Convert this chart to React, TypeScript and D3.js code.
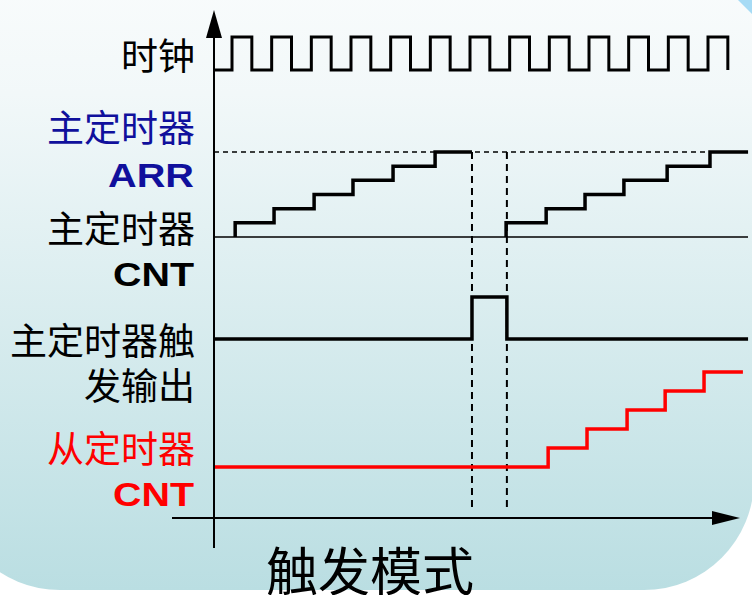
import React from "react";
import * as d3 from "d3";

// ---- data (time in clock periods, levels in counter units) ----
const clockRises = [0, 1, 2, 3, 4, 5, 6, 7, 8, 9, 10, 11, 12];
const clockHigh = 0.5;
const timeStart = -0.45;

const masterRun1T = [0.08, 1.06, 2.07, 3.05, 4.06, 5.12, 6.05];
const masterRun1V = [1, 2, 3, 4, 5, 6, 6];
const masterRun2T = [6.91, 7.92, 8.9, 9.88, 10.97, 12.05, 13.01];
const masterRun2V = [1, 2, 3, 4, 5, 6, 6];
const arrValue = 6;

const triggerT = [-0.45, 6.05, 6.93, 13.01];
const triggerV = [0, 1, 0, 0];

const slaveT = [-0.45, 7.97, 8.95, 9.96, 10.92, 11.9, 12.88];
const slaveV = [0, 1, 2, 3, 4, 5, 5];

const resetMarks = [6.05, 6.93];

const labels = [
  { text: "时钟", color: "#000", y: 70, bold: false },
  { text: "主定时器", color: "#10109c", y: 142, bold: false },
  { text: "ARR", color: "#10109c", y: 187, bold: true, len: 86 },
  { text: "主定时器", color: "#000", y: 243, bold: false },
  { text: "CNT", color: "#000", y: 286, bold: true, len: 81 },
  { text: "主定时器触", color: "#000", y: 355, bold: false },
  { text: "发输出", color: "#000", y: 400, bold: false },
  { text: "从定时器", color: "#ff0000", y: 463, bold: false },
  { text: "CNT", color: "#ff0000", y: 506, bold: true, len: 81 },
];
const title = "触发模式";

export default function App() {
  const W = 752;
  const H = 595;
  const x = d3.scaleLinear().domain([0, 12]).range([232, 708]);
  const yClock = d3.scaleLinear().domain([0, 1]).range([70, 37]);
  const yCnt = d3.scaleLinear().domain([0, 6]).range([237, 152]);
  const yTrig = d3.scaleLinear().domain([0, 1]).range([339, 297]);
  const ySlave = d3.scaleLinear().domain([0, 5]).range([467, 372]);

  const clockPts: [number, number][] = [[timeStart, 0]];
  clockRises.forEach((r) => {
    clockPts.push([r, 1]);
    clockPts.push([r + clockHigh, 0]);
  });
  const clockLine = d3
    .line<[number, number]>()
    .x((d) => x(d[0]))
    .y((d) => yClock(d[1]))
    .curve(d3.curveStepAfter)(clockPts);

  const stepLine = (ys: d3.ScaleLinear<number, number>) =>
    d3
      .line<[number, number]>()
      .x((d) => x(d[0]))
      .y((d) => ys(d[1]))
      .curve(d3.curveStepAfter);

  const m1: [number, number][] = [[masterRun1T[0], 0], ...masterRun1T.map((t, i) => [t, masterRun1V[i]] as [number, number])];
  const m2: [number, number][] = [[masterRun2T[0], 0], ...masterRun2T.map((t, i) => [t, masterRun2V[i]] as [number, number])];
  const trig: [number, number][] = triggerT.map((t, i) => [t, triggerV[i]]);
  const slave: [number, number][] = slaveT.map((t, i) => [t, slaveV[i]]);

  const axisX = 214;
  const axisY = 518;

  return (
    <svg
      width={W}
      height={H}
      style={{ position: "fixed", left: 0, top: 0, background: "#fff" }}
    >
      <defs>
        <linearGradient id="bg" x1="0" y1="0" x2="0" y2="1">
          <stop offset="0" stopColor="#ffffff" />
          <stop offset="0.3" stopColor="#f2f8f9" />
          <stop offset="1" stopColor="#badee2" />
        </linearGradient>
      </defs>
      <rect x={-50} y={-120} width={804} height={710} rx={110} ry={110} fill="url(#bg)" />
      <polygon points="738,0 752,0 752,14" fill="#a6dbf5" />

      {/* reference lines */}
      <line x1={axisX} x2={748} y1={yCnt(arrValue)} y2={yCnt(arrValue)} stroke="#000" strokeWidth={1.5} strokeDasharray="5,4" />
      <line x1={axisX} x2={748} y1={yCnt(0)} y2={yCnt(0)} stroke="#000" strokeWidth={1.5} />
      {resetMarks.map((t, i) => (
        <line key={i} x1={x(t)} x2={x(t)} y1={yCnt(arrValue)} y2={508} stroke="#000" strokeWidth={2} strokeDasharray="7,5" />
      ))}

      {/* signals */}
      <path d={clockLine || ""} fill="none" stroke="#000" strokeWidth={3} />
      <path d={stepLine(yCnt)(m1) || ""} fill="none" stroke="#000" strokeWidth={3.5} />
      <path d={stepLine(yCnt)(m2) || ""} fill="none" stroke="#000" strokeWidth={3.5} />
      <path d={stepLine(yTrig)(trig) || ""} fill="none" stroke="#000" strokeWidth={3.5} />
      <path d={stepLine(ySlave)(slave) || ""} fill="none" stroke="#ff0000" strokeWidth={3.5} />

      {/* axes */}
      <line x1={axisX} x2={axisX} y1={548} y2={30} stroke="#000" strokeWidth={2} />
      <polygon points={`${axisX},10 ${axisX - 8},38 ${axisX + 8},38`} fill="#000" />
      <line x1={172} x2={720} y1={axisY} y2={axisY} stroke="#000" strokeWidth={2} />
      <polygon points={`740,${axisY} 712,${axisY - 7} 712,${axisY + 7}`} fill="#000" />

      {/* labels */}
      {labels.map((l, i) =>
        l.bold ? (
          <text
            key={i}
            x={194}
            y={l.y}
            textAnchor="end"
            fill={l.color}
            fontFamily="'Liberation Sans', Arial, sans-serif"
            fontWeight="bold"
            fontSize={34}
            textLength={l.len}
            lengthAdjust="spacingAndGlyphs"
          >
            {l.text}
          </text>
        ) : (
          <text
            key={i}
            x={195}
            y={l.y}
            textAnchor="end"
            fill={l.color}
            fontFamily="'Noto Sans CJK SC', sans-serif"
            fontSize={37}
          >
            {l.text}
          </text>
        )
      )}
      <text x={370} y={591} textAnchor="middle" fill="#000" fontFamily="'Noto Sans CJK SC', sans-serif" fontSize={52}>
        {title}
      </text>
    </svg>
  );
}
